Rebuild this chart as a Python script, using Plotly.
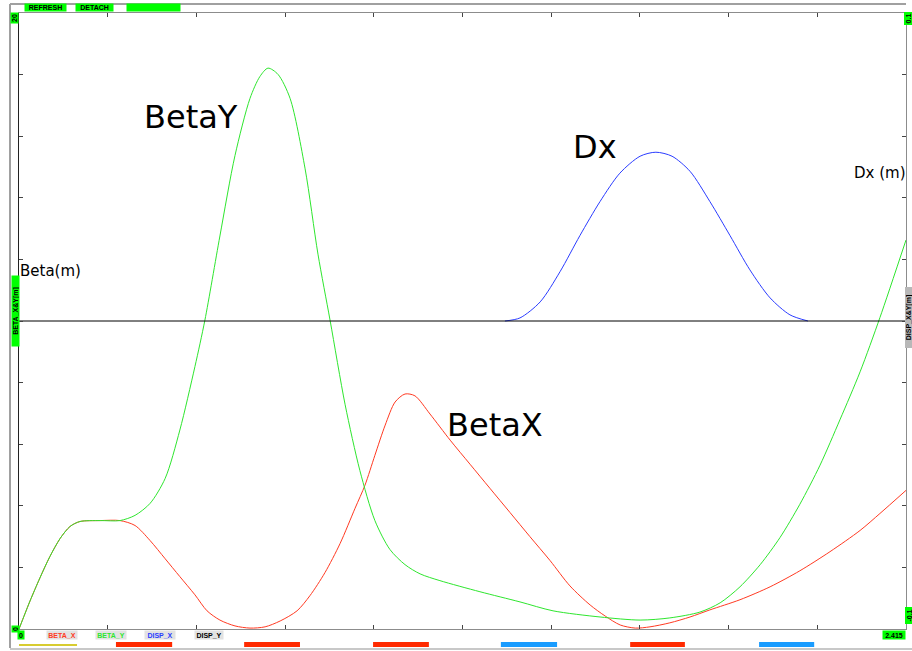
import plotly.graph_objects as go

# ---------------- data ----------------
S_MAX = 2.415

beta_y_s = [0.000, 0.016, 0.030, 0.057, 0.084, 0.112, 0.139, 0.166, 0.221, 0.275,
            0.316, 0.357, 0.398, 0.438, 0.479, 0.506, 0.547, 0.588, 0.629, 0.656,
            0.678, 0.705, 0.738, 0.779, 0.814, 0.847, 0.888, 0.928, 0.969, 1.010,
            1.051, 1.092, 1.146, 1.255, 1.364, 1.454, 1.582, 1.691, 1.772, 1.854,
            1.909, 1.963, 2.018, 2.072, 2.126, 2.181, 2.235, 2.290, 2.344, 2.415]
beta_y = [0.00, 0.49, 0.91, 1.66, 2.35, 2.94, 3.33, 3.49, 3.52, 3.52,
          3.69, 4.08, 4.89, 6.46, 8.52, 10.02, 12.76, 15.37, 17.23, 17.94,
          18.21, 18.01, 17.23, 14.94, 12.17, 10.02, 7.28, 5.15, 3.52, 2.58,
          2.09, 1.79, 1.57, 1.21, 0.88, 0.59, 0.39, 0.29, 0.36, 0.55,
          0.85, 1.37, 2.09, 2.97, 4.05, 5.32, 6.79, 8.35, 10.11, 12.63]

beta_x_s = [0.000, 0.016, 0.030, 0.057, 0.084, 0.112, 0.139, 0.166, 0.221, 0.275,
            0.316, 0.357, 0.398, 0.438, 0.479, 0.512, 0.547, 0.588, 0.629, 0.670,
            0.711, 0.757, 0.792, 0.833, 0.874, 0.915, 0.942, 0.969, 0.997, 1.024,
            1.051, 1.078, 1.119, 1.174, 1.228, 1.282, 1.337, 1.391, 1.446, 1.500,
            1.555, 1.596, 1.637, 1.678, 1.718, 1.772, 1.827, 1.881, 1.963, 2.045,
            2.126, 2.208, 2.290, 2.344, 2.415]
beta_x = [0.00, 0.49, 0.91, 1.66, 2.35, 2.94, 3.33, 3.49, 3.52, 3.52,
          3.36, 2.87, 2.28, 1.70, 1.11, 0.59, 0.29, 0.10, 0.03, 0.07,
          0.26, 0.59, 1.08, 1.83, 2.77, 3.92, 4.67, 5.64, 6.62, 7.37,
          7.63, 7.57, 6.98, 6.13, 5.35, 4.57, 3.78, 3.00, 2.22, 1.40,
          0.78, 0.42, 0.13, 0.03, 0.07, 0.20, 0.39, 0.62, 0.95, 1.37,
          1.89, 2.51, 3.20, 3.75, 4.50]

disp_x_s = [1.323, 1.364, 1.419, 1.473, 1.527, 1.582, 1.636, 1.691, 1.734,
            1.778, 1.827, 1.881, 1.936, 1.990, 2.045, 2.099, 2.148]
disp_x = [0.0, 0.0010, 0.0062, 0.0160, 0.0277, 0.0388, 0.0480, 0.0535, 0.0548,
          0.0535, 0.0486, 0.0388, 0.0277, 0.0166, 0.0075, 0.0020, 0.0]

disp_y_s = [0.000, 2.415]
disp_y = [0.0, 0.0]

# lattice elements along s (start, end, kind)
elem_start = [0.000, 0.264, 0.613, 0.964, 1.312, 1.664, 2.015]
elem_end = [0.158, 0.417, 0.765, 1.116, 1.465, 1.813, 2.165]
elem_kind = ["sol", "qf", "qf", "qf", "qd", "qf", "qd"]

# ---------------- figure ----------------
RED = "#ff3a22"
GREEN = "#2ee62e"
BLUE = "#2a3cff"
BLACK = "#000000"

fig = go.Figure()
fig.add_trace(go.Scatter(x=beta_x_s, y=beta_x, mode="lines", name="BETA_X",
                         line=dict(color=RED, width=1, shape="spline", smoothing=0.8)))
fig.add_trace(go.Scatter(x=beta_y_s, y=beta_y, mode="lines", name="BETA_Y",
                         line=dict(color=GREEN, width=1, shape="spline", smoothing=0.8)))
fig.add_trace(go.Scatter(x=disp_x_s, y=disp_x, mode="lines", name="DISP_X", yaxis="y2",
                         line=dict(color=BLUE, width=1, shape="spline", smoothing=0.8)))
fig.add_trace(go.Scatter(x=disp_y_s, y=disp_y, mode="lines", name="DISP_Y", yaxis="y2",
                         line=dict(color=BLACK, width=1)))

W, H = 912, 651
L, R, T, B = 19, 6, 13, 22
pw, ph = W - L - R, H - T - B


def px(xp):
    return (xp - L) / pw


def py(yp):
    return (H - B - yp) / ph


shapes = []
elem_color = {"sol": "#d8cc30", "qf": "#ff2a00", "qd": "#1a9cff"}
for s0, s1, k in zip(elem_start, elem_end, elem_kind):
    if k == "sol":
        y0, y1 = py(646), py(644)
    else:
        y0, y1 = py(647), py(642)
    shapes.append(dict(type="rect", xref="x", yref="paper", x0=s0, x1=s1, y0=y0, y1=y1,
                       fillcolor=elem_color[k], line=dict(width=0), layer="above"))
# outer frame
frame = "#a0a0a0"
shapes += [
    dict(type="line", xref="paper", yref="paper", x0=px(10), x1=px(10), y0=py(4), y1=py(648),
         line=dict(color=frame, width=2)),
    dict(type="line", xref="paper", yref="paper", x0=px(10), x1=px(906), y0=py(4), y1=py(4),
         line=dict(color=frame, width=2)),
    dict(type="line", xref="paper", yref="paper", x0=px(10), x1=px(912), y0=py(649), y1=py(649),
         line=dict(color="#c8c8c8", width=2)),
]

ann = []


def box(text, x, y, bg="#00ff00", color="#000000", angle=0, size=7, w=None, h=None):
    d = dict(text="<b>" + text + "</b>", x=px(x), y=py(y), xref="paper", yref="paper",
             showarrow=False, textangle=angle, bgcolor=bg, borderpad=0,
             font=dict(family="Liberation Sans", size=size, color=color),
             xanchor="center", yanchor="middle")
    if w:
        d["width"] = w
    if h:
        d["height"] = h
    ann.append(d)


box("REFRESH", 45, 8, w=41, h=7)
box("DETACH", 94, 8, w=37, h=7)
box(" ", 153, 8, w=53, h=7)
box("20", 15, 18, angle=-90, w=10, h=7)
box("BETA_X&amp;Y[m]", 15, 311, angle=-90, w=70, h=7)
box("0", 15, 629, angle=-90, w=6, h=7)
box("0", 21, 635, w=6, h=8)
box("2.415", 894, 635, w=22, h=8)
box("0.1", 908.5, 19, angle=-90, w=12, h=7)
box("-0.1", 908.5, 616, angle=-90, w=16, h=7)
box("DISP_X&amp;Y[m]", 908.5, 318, bg="#b8b8b8", angle=-90, w=60, h=7)
box("BETA_X", 62, 635, bg="#e2e2e2", color=RED, w=30, h=8)
box("BETA_Y", 111, 635, bg="#e2e2e2", color=GREEN, w=30, h=8)
box("DISP_X", 160, 635, bg="#e2e2e2", color=BLUE, w=30, h=8)
box("DISP_Y", 209, 635, bg="#e2e2e2", color=BLACK, w=28, h=8)


def big(text, x, y, size):
    ann.append(dict(text=text, x=px(x), y=py(y), xref="paper", yref="paper",
                    showarrow=False, xanchor="center", yanchor="middle",
                    font=dict(family="DejaVu Sans", size=size, color="#000000")))


big("BetaY", 191, 117, 32)
big("Dx", 595, 147, 32)
big("BetaX", 495, 425, 32)
big("Beta(m)", 50, 271, 15)
big("Dx (m)", 880, 173, 15)

fig.update_layout(
    width=W, height=H,
    margin=dict(l=L, r=R, t=T, b=B, pad=0),
    paper_bgcolor="white", plot_bgcolor="white",
    showlegend=False,
    xaxis=dict(range=[0, S_MAX], tick0=0, dtick=S_MAX / 10, ticks="inside", ticklen=4,
               tickcolor="#444", showticklabels=False, showgrid=False, zeroline=False,
               showline=True, linecolor="#8c8c8c", linewidth=1, mirror="ticks"),
    yaxis=dict(range=[0, 20], tick0=0, dtick=2, ticks="inside", ticklen=4, tickcolor="#444",
               showticklabels=False, showgrid=False, zeroline=False,
               showline=True, linecolor="#222", linewidth=1),
    yaxis2=dict(range=[-0.1, 0.1], tick0=-0.1, dtick=0.02, ticks="inside", ticklen=4,
                tickcolor="#444", showticklabels=False, showgrid=False, zeroline=False,
                showline=True, linecolor="#8c8c8c", linewidth=1,
                overlaying="y", side="right"),
    shapes=shapes,
    annotations=ann,
)

fig.write_html("out.html",
               config={"displayModeBar": False},
               post_script="document.body.style.margin='0px';"
                           "document.body.style.overflow='hidden';")
